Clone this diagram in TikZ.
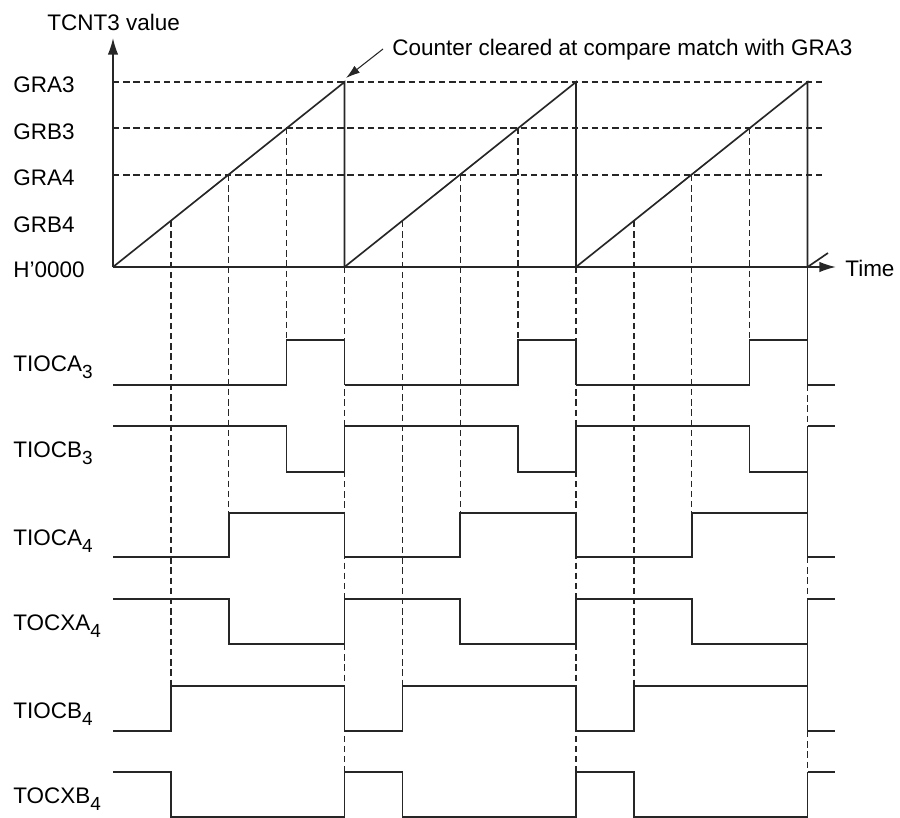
\documentclass[tikz,border=0pt]{standalone}
\usepackage{fontspec}
\setmainfont{Liberation Sans}
\usetikzlibrary{arrows.meta}
\newcommand{\lowidx}[1]{\raisebox{-4.5pt}{\fontsize{10.8}{12}\selectfont #1}}
\begin{document}
\begin{tikzpicture}[x=0.02cm,y=-0.02cm,
  lbl/.style={font=\fontsize{12.8}{15}\selectfont, inner sep=0pt, anchor=base west},
  sig/.style={line width=0.95pt, draw=black!85},
  dsh/.style={line width=0.75pt, draw=black!85, dash pattern=on 3.6pt off 2.2pt},
  axisarrow/.style={line width=0.95pt, draw=black!85, -{Latex[length=9.5pt,width=6pt]}}]
\useasboundingbox (0,0) rectangle (900,818);

% labels
\node[lbl] (tcnt) at (47,31) {TCNT3 value};
\node[lbl] (gra3) at (13,92) {GRA3};
\node[lbl] (grb3) at (13,139) {GRB3};
\node[lbl] (gra4) at (13,185) {GRA4};
\node[lbl] (grb4) at (13,232) {GRB4};
\node[lbl] (zero) at (13,277) {H'0000};
\node[lbl] (time) at (845,276) {Time};
\node[lbl] (note) at (392,55) {Counter cleared at compare match with GRA3};
\node[lbl] (la3) at (13,371) {TIOCA\lowidx{3}};
\node[lbl] (lb3) at (13,457) {TIOCB\lowidx{3}};
\node[lbl] (la4) at (13,545) {TIOCA\lowidx{4}};
\node[lbl] (lxa4) at (13,630) {TOCXA\lowidx{4}};
\node[lbl] (lb4) at (13,718) {TIOCB\lowidx{4}};
\node[lbl] (lxb4) at (13,803) {TOCXB\lowidx{4}};

% reference lines
\coordinate (O) at (113,267);
\foreach \yy in {82,128,175} \draw[dsh] (113,\yy) -- (825,\yy);

% period boundary dashed lines
\draw[dsh] (344.5,267) -- (344.5,817);
\draw[dsh] (576,267) -- (576,817);
\draw[dsh] (807.5,385) -- (807.5,426);
\draw[dsh] (807.5,557) -- (807.5,599);
\draw[dsh] (807.5,731) -- (807.5,772);

\foreach \k in {0,1,2} {
  \pgfmathsetmacro\p{113+231.5*\k}
  \pgfmathsetmacro\q{\p+231.5}
  \pgfmathsetmacro\ca{\p+231.5*0.25}
  \pgfmathsetmacro\cb{\p+231.5*0.5}
  \pgfmathsetmacro\cc{\p+231.5*0.75}
  \draw[dsh] (\ca,221) -- (\ca,686);
  \draw[dsh] (\cb,175) -- (\cb,513);
  \draw[dsh] (\cc,128) -- (\cc,340);
  \draw[sig] (\p,267) -- (\q,82) -- (\q,267);
  \draw[sig] (\p,385) -| (\cc,340) -| (\q,385);
  \draw[sig] (\p,426) -| (\cc,472) -| (\q,426);
  \draw[sig] (\p,557) -| (\cb,513) -| (\q,557);
  \draw[sig] (\p,599) -| (\cb,644) -| (\q,599);
  \draw[sig] (\p,731) -| (\ca,686) -| (\q,731);
  \draw[sig] (\p,772) -| (\ca,817) -| (\q,772);
}

% final edge and stubs
\draw[sig] (807.5,82) -- (807.5,385);
\draw[sig] (807.5,426) -- (807.5,557);
\draw[sig] (807.5,599) -- (807.5,731);
\draw[sig] (807.5,772) -- (807.5,817);
\foreach \yy in {385,426,557,599,731,772} \draw[sig] (807.5,\yy) -- (835,\yy);

% axes
\draw[axisarrow] (O) -- (113,38);
\draw[axisarrow] (O) -- (836,267);
\coordinate (brk) at (828,253);
\draw[sig] (807.5,267) -- (brk);

% annotation arrow
\coordinate (tail) at (383,49);
\coordinate (tip) at (346,78);
\draw[line width=0.6pt, draw=black!85, -{Latex[length=8pt,width=5pt]}] (tail) -- (tip);
\end{tikzpicture}
\end{document}
